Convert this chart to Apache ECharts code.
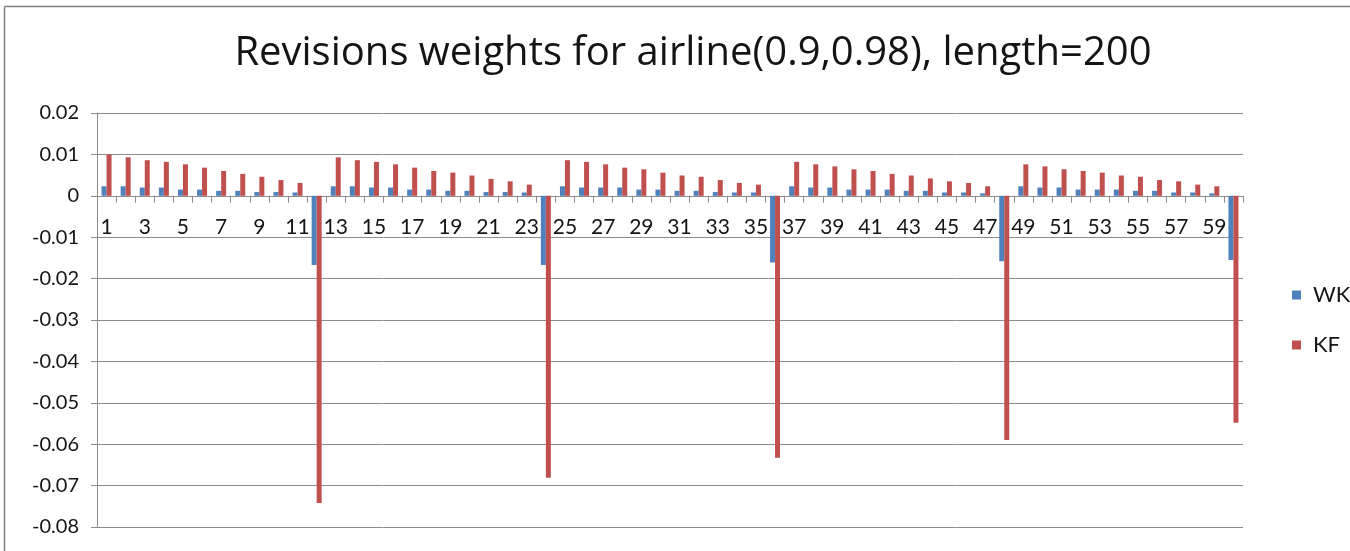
<!DOCTYPE html>
<html>
<head>
<meta charset="utf-8">
<script src="https://cdn.jsdelivr.net/npm/echarts@6/dist/echarts.min.js"></script>
<style>
html,body{margin:0;padding:0;background:#fff;}
#chart{width:1350px;height:551px;}
</style>
</head>
<body>
<div id="chart"></div>
<script>
const titleText = 'Revisions weights for airline(0.9,0.98), length=200';
const categories = ['1','2','3','4','5','6','7','8','9','10','11','12','13','14','15','16','17','18','19','20',
  '21','22','23','24','25','26','27','28','29','30','31','32','33','34','35','36','37','38','39','40',
  '41','42','43','44','45','46','47','48','49','50','51','52','53','54','55','56','57','58','59','60'];
const seriesNames = ['WK', 'KF'];
const wkValues = [
  0.0023,0.0023,0.0020,0.0020,0.0015,0.0015,0.0012,0.0012,0.0009,0.0009,0.0008,-0.0167,
  0.0023,0.0023,0.0020,0.0020,0.0015,0.0015,0.0012,0.0012,0.0009,0.0009,0.0008,-0.0167,
  0.0023,0.0020,0.0020,0.0020,0.0015,0.0015,0.0012,0.0012,0.0009,0.0008,0.0008,-0.0161,
  0.0023,0.0020,0.0020,0.0015,0.0015,0.0015,0.0012,0.0012,0.0008,0.0008,0.0006,-0.0158,
  0.0023,0.0020,0.0020,0.0015,0.0015,0.0015,0.0012,0.0012,0.0008,0.0008,0.0006,-0.0155
];
const kfValues = [
  0.0100,0.0093,0.0086,0.0082,0.0076,0.0068,0.0060,0.0053,0.0046,0.0038,0.0031,-0.0742,
  0.0093,0.0086,0.0082,0.0076,0.0068,0.0060,0.0056,0.0049,0.0041,0.0035,0.0027,-0.0681,
  0.0086,0.0082,0.0076,0.0068,0.0064,0.0056,0.0049,0.0046,0.0038,0.0031,0.0027,-0.0633,
  0.0082,0.0076,0.0071,0.0064,0.0060,0.0053,0.0049,0.0042,0.0035,0.0031,0.0023,-0.0590,
  0.0076,0.0071,0.0064,0.0060,0.0056,0.0049,0.0046,0.0038,0.0035,0.0027,0.0023,-0.0548
];
const yMin = -0.08, yMax = 0.02, yStep = 0.01;

const FONT = 'Lato, "Open Sans", sans-serif';
const TITLE_FONT = '"Open Sans", Lato, sans-serif';
const TXT = '#141414';
const GRID = '#8c8c8c';

const GRID_TOP = 113, GRID_BOTTOM = 24, HEIGHT = 551;
const plotH = HEIGHT - GRID_TOP - GRID_BOTTOM;
// place the category axis at value 0 on the value axis
const zeroOffset = -plotH * (0 - yMin) / (yMax - yMin);

const chart = echarts.init(document.getElementById('chart'), null, {renderer: 'canvas'});
chart.setOption({
  animation: false,
  backgroundColor: '#ffffff',
  textStyle: {fontFamily: FONT},
  title: {
    text: titleText,
    left: 688,
    textAlign: 'center',
    top: 29,
    textStyle: {fontFamily: TITLE_FONT, fontSize: 40, fontWeight: 'normal', color: TXT}
  },
  legend: {
    orient: 'vertical',
    left: 1287,
    top: 279,
    icon: 'rect',
    itemWidth: 9,
    itemHeight: 9,
    itemGap: 28,
    textStyle: {fontFamily: FONT, fontSize: 22, color: TXT, padding: [0,0,0,7]},
    data: seriesNames
  },
  grid: {left: 97, right: 107, top: GRID_TOP, bottom: GRID_BOTTOM, containLabel: false},
  xAxis: {
    type: 'category',
    data: categories,
    boundaryGap: true,
    position: 'bottom',
    offset: zeroOffset,
    axisLine: {onZero: false, lineStyle: {color: GRID, width: 1}},
    axisTick: {show: true, interval: 0, length: 7, lineStyle: {color: GRID}},
    axisLabel: {interval: 1, margin: 21, fontFamily: FONT, fontSize: 21, color: TXT},
    splitLine: {show: false}
  },
  yAxis: {
    type: 'value',
    min: yMin,
    max: yMax,
    interval: yStep,
    axisLine: {show: true, lineStyle: {color: GRID, width: 1}},
    axisTick: {show: true, length: 6, lineStyle: {color: GRID}},
    axisLabel: {
      margin: 18, fontFamily: FONT, fontSize: 20, color: TXT,
      formatter: function (v) { return String(Math.round(v * 100) / 100); }
    },
    splitLine: {show: true, lineStyle: {color: GRID, width: 1}}
  },
  graphic: [
    {type: 'line', shape: {x1: 4.5, y1: 6.5, x2: 1350, y2: 6.5}, style: {stroke: '#7f7f7f', lineWidth: 1.5}, silent: true},
    {type: 'line', shape: {x1: 4.5, y1: 6.5, x2: 4.5, y2: 551}, style: {stroke: '#7f7f7f', lineWidth: 1.5}, silent: true}
  ],
  series: [
    {name: seriesNames[0], type: 'bar', data: wkValues, barWidth: 5, barGap: '0%', itemStyle: {color: '#4F81BD'}},
    {name: seriesNames[1], type: 'bar', data: kfValues, barWidth: 5, barGap: '0%', itemStyle: {color: '#C0504D'}}
  ]
});
</script>
</body>
</html>
